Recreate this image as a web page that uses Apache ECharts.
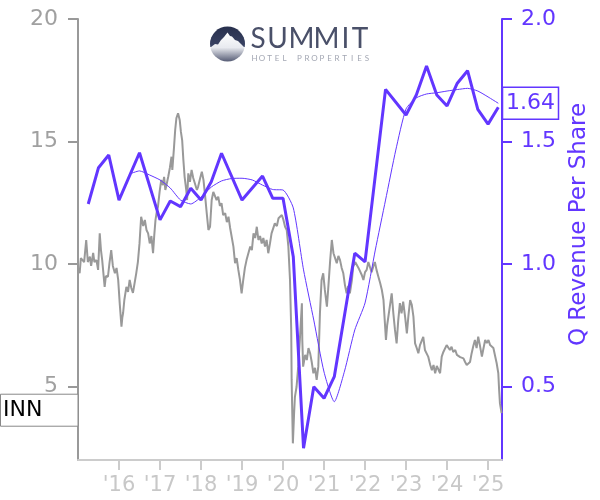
<!DOCTYPE html>
<html><head><meta charset="utf-8">
<script src="https://cdn.jsdelivr.net/npm/echarts@6/dist/echarts.min.js"></script>
<style>html,body{margin:0;padding:0;background:#fff}#c{width:600px;height:500px}</style>
</head><body><div id="c"></div>
<script>
const ticker = 'INN';
const rightAxisName = 'Q Revenue Per Share';
const priceDates = [2015.00,2015.04,2015.07,2015.15,2015.20,2015.24,2015.29,2015.32,2015.37,2015.40,2015.45,2015.49,2015.53,2015.56,2015.59,2015.65,2015.68,2015.73,2015.77,2015.81,2015.85,2015.90,2015.94,2015.98,2016.02,2016.06,2016.08,2016.10,2016.13,2016.18,2016.22,2016.26,2016.30,2016.34,2016.38,2016.42,2016.46,2016.50,2016.54,2016.59,2016.63,2016.67,2016.71,2016.75,2016.79,2016.83,2016.86,2016.89,2016.92,2016.95,2016.99,2017.03,2017.07,2017.10,2017.13,2017.15,2017.20,2017.24,2017.28,2017.30,2017.34,2017.37,2017.40,2017.44,2017.48,2017.51,2017.54,2017.57,2017.60,2017.64,2017.66,2017.69,2017.73,2017.77,2017.81,2017.85,2017.90,2017.93,2017.98,2018.02,2018.06,2018.10,2018.14,2018.18,2018.22,2018.26,2018.30,2018.34,2018.38,2018.42,2018.46,2018.50,2018.54,2018.59,2018.63,2018.67,2018.71,2018.75,2018.79,2018.83,2018.87,2018.91,2018.95,2018.99,2019.03,2019.07,2019.11,2019.15,2019.20,2019.24,2019.28,2019.32,2019.36,2019.40,2019.44,2019.48,2019.52,2019.56,2019.60,2019.64,2019.68,2019.72,2019.76,2019.80,2019.85,2019.89,2019.93,2019.97,2020.01,2020.05,2020.09,2020.13,2020.17,2020.20,2020.21,2020.24,2020.27,2020.29,2020.33,2020.37,2020.41,2020.46,2020.47,2020.49,2020.54,2020.58,2020.62,2020.66,2020.70,2020.74,2020.78,2020.82,2020.86,2020.90,2020.94,2020.98,2021.02,2021.07,2021.10,2021.15,2021.19,2021.23,2021.27,2021.31,2021.35,2021.39,2021.43,2021.47,2021.51,2021.55,2021.59,2021.63,2021.68,2021.71,2021.76,2021.80,2021.84,2021.88,2021.92,2021.96,2022.00,2022.04,2022.08,2022.12,2022.16,2022.20,2022.24,2022.28,2022.32,2022.37,2022.41,2022.45,2022.48,2022.51,2022.54,2022.57,2022.61,2022.65,2022.69,2022.73,2022.77,2022.81,2022.85,2022.89,2022.93,2022.98,2023.02,2023.06,2023.10,2023.14,2023.18,2023.22,2023.26,2023.30,2023.34,2023.38,2023.42,2023.46,2023.50,2023.54,2023.59,2023.63,2023.67,2023.71,2023.75,2023.79,2023.83,2023.87,2023.91,2023.95,2023.99,2024.03,2024.07,2024.11,2024.15,2024.20,2024.24,2024.28,2024.32,2024.36,2024.40,2024.44,2024.48,2024.52,2024.56,2024.60,2024.64,2024.68,2024.72,2024.76,2024.80,2024.85,2024.89,2024.93,2024.97,2025.01,2025.05,2025.09,2025.13,2025.17,2025.21,2025.25,2025.27,2025.29,2025.33];
const priceValues = [9.76,9.63,10.24,10.08,10.98,10.08,10.30,9.92,10.45,10.08,10.16,9.76,11.25,10.57,10.16,9.07,9.51,9.48,10.08,10.57,9.92,9.62,9.84,9.35,8.33,7.44,7.80,8.00,8.53,9.07,8.86,9.35,9.02,8.82,9.22,9.62,10.08,10.84,11.93,11.55,11.80,11.39,11.25,10.84,11.14,10.44,11.18,11.80,12.12,12.34,12.94,13.43,13.22,13.56,13.02,13.16,13.56,13.92,14.38,13.84,14.73,15.47,15.96,16.15,15.88,15.39,15.06,14.24,13.56,13.02,12.61,13.70,13.35,13.84,13.51,13.43,13.02,13.16,13.51,13.77,13.43,12.78,12.07,11.39,11.52,12.61,12.94,13.02,12.61,12.75,12.37,12.48,12.00,12.07,11.71,11.93,11.47,11.52,10.71,10.03,10.24,9.76,9.35,8.80,9.35,9.84,10.16,10.08,10.71,10.57,11.25,11.06,11.52,10.98,11.14,10.84,11.06,10.71,10.98,10.44,10.82,11.25,11.31,11.66,11.55,11.87,11.93,12.00,11.80,11.52,11.39,10.71,9.35,7.31,5.27,2.68,3.91,4.58,4.99,5.81,6.90,8.40,6.90,5.81,6.29,6.08,6.57,6.36,6.00,5.54,5.76,5.27,5.81,7.99,9.35,9.62,8.94,8.26,8.94,10.16,10.98,10.44,10.24,10.03,10.33,10.16,9.84,9.62,9.14,8.80,9.10,8.80,9.35,9.89,10.08,10.16,9.84,9.89,9.55,9.35,9.67,9.76,10.08,10.03,9.67,9.89,10.08,9.76,9.51,9.21,8.94,8.53,7.71,6.90,7.51,7.58,8.33,8.80,7.99,7.31,6.76,7.71,8.40,7.99,8.46,7.80,7.17,7.92,8.53,8.33,7.85,6.76,6.57,6.36,6.69,6.76,7.03,6.49,6.41,6.22,5.88,5.67,5.88,5.54,5.84,5.81,5.54,6.22,6.41,6.49,6.69,6.76,6.49,6.62,6.41,6.49,6.29,6.36,6.20,6.24,6.15,6.00,5.88,5.81,6.00,6.36,6.65,6.90,6.57,7.03,6.69,6.22,6.57,6.90,6.78,6.90,6.69,6.76,6.57,6.49,5.95,5.54,4.86,4.31,3.91];
const revQuarters = [2015.25,2015.5,2015.75,2016.0,2016.5,2017.0,2017.25,2017.5,2017.75,2018.0,2018.25,2018.5,2019.0,2019.5,2019.75,2020.0,2020.25,2020.5,2020.75,2021.0,2021.25,2021.75,2022.0,2022.5,2023.0,2023.25,2023.5,2023.75,2024.0,2024.25,2024.5,2024.75,2025.0,2025.25];
const revValues = [1.245,1.393,1.445,1.261,1.454,1.180,1.257,1.234,1.309,1.261,1.336,1.452,1.261,1.359,1.268,1.268,1.030,0.248,0.499,0.452,0.540,1.044,1.009,1.713,1.608,1.690,1.808,1.690,1.645,1.738,1.789,1.631,1.571,1.64];
const avgQuarters = [2016.25,2016.5,2016.75,2017.0,2017.25,2017.5,2017.75,2018.0,2018.25,2018.5,2018.75,2019.0,2019.25,2019.5,2019.75,2020.0,2020.25,2020.5,2020.75,2021.0,2021.25,2021.5,2021.75,2022.0,2022.25,2022.5,2022.75,2023.0,2023.25,2023.5,2023.75,2024.0,2024.25,2024.5,2024.75,2025.0,2025.25];
const avgValues = [1.367,1.380,1.363,1.343,1.310,1.261,1.245,1.273,1.314,1.339,1.349,1.350,1.343,1.322,1.304,1.302,1.229,0.976,0.771,0.559,0.438,0.563,0.731,0.841,1.057,1.261,1.465,1.633,1.678,1.694,1.699,1.706,1.712,1.717,1.706,1.682,1.656];
const xMin = 2015, xMax = 2025.34;
const priceMin = 2, priceMax = 20;
const revMin = 0.2, revMax = 2.0;

const PURPLE = '#6236ff';
const FONT = 'DejaVu Sans';
const chart = echarts.init(document.getElementById('c'), null, {renderer: 'canvas'});

const zip = (a, b) => a.map((v, i) => [v, b[i]]);

chart.setOption({
  animation: false,
  grid: {left: 78, right: 98, top: 19, bottom: 40, containLabel: false},
  xAxis: {
    type: 'value', min: xMin, max: xMax, interval: 1,
    axisLine: {show: true, lineStyle: {color: '#cccccc', width: 2}},
    axisTick: {show: true, length: 10, lineStyle: {color: '#cccccc', width: 2}},
    axisLabel: {color: '#c8c8c8', fontSize: 21, fontFamily: FONT, margin: 15,
      showMinLabel: false, showMaxLabel: false,
      formatter: v => "'" + String(Math.round(v)).slice(2)},
    splitLine: {show: false}
  },
  yAxis: [{
    type: 'value', position: 'left', min: priceMin, max: priceMax, splitNumber: 4,
    axisLine: {show: true, lineStyle: {color: '#999999', width: 2}},
    axisTick: {show: true, length: 10, lineStyle: {color: '#999999', width: 2}},
    axisLabel: {color: '#a0a0a0', fontSize: 22, fontFamily: FONT, margin: 20, showMinLabel: false},
    splitLine: {show: false}
  }, {
    type: 'value', position: 'right', min: revMin, max: revMax, splitNumber: 4,
    name: rightAxisName, nameLocation: 'middle', nameGap: 66, nameRotate: 90,
    nameTextStyle: {color: PURPLE, fontSize: 23, fontFamily: FONT, padding: [0, 0, 0, 30]},
    axisLine: {show: true, lineStyle: {color: PURPLE, width: 2}},
    axisTick: {show: true, length: 10, lineStyle: {color: PURPLE, width: 2}},
    axisLabel: {color: PURPLE, fontSize: 22, fontFamily: FONT, margin: 19, showMinLabel: false,
      formatter: v => v.toFixed(1)},
    splitLine: {show: false}
  }],
  series: [{
    type: 'line', yAxisIndex: 0, data: zip(priceDates, priceValues),
    showSymbol: false, lineStyle: {color: '#999999', width: 2}, z: 1
  }, {
    type: 'line', yAxisIndex: 1, data: zip(avgQuarters, avgValues),
    showSymbol: false, smooth: 0.2, lineStyle: {color: PURPLE, width: 1}, z: 2
  }, {
    type: 'line', yAxisIndex: 1, data: zip(revQuarters, revValues),
    showSymbol: false, lineStyle: {color: PURPLE, width: 3}, z: 3
  }]
});

// value tags computed from the data through the axes
const lastPrice = priceValues[priceValues.length - 1];
const lastRev = revValues[revValues.length - 1];
const yPrice = chart.convertToPixel({yAxisIndex: 0}, lastPrice) - 3;
const yRev = chart.convertToPixel({yAxisIndex: 1}, lastRev) - 4;
const xRight = chart.convertToPixel({xAxisIndex: 0}, xMax);
const xLeft = chart.convertToPixel({xAxisIndex: 0}, xMin);

// Logo letters
const summitLetters = [['S',258],['U',277.5],['M',301.5],['M',326.5],['I',345.5],['T',360]];
const subText = 'HOTEL PROPERTIES';
const logoEls = [
  {type: 'circle', shape: {cx: 227.5, cy: 44, r: 17.5},
   style: {fill: new echarts.graphic.LinearGradient(0, 0, 0, 1, [
     {offset: 0, color: '#28304d'}, {offset: 0.58, color: '#3a4364'},
     {offset: 0.6, color: '#e9ebf0'}, {offset: 1, color: '#565c75'}])}},
  {type: 'polygon', shape: {points: [[211,47],[215,44],[218,44.5],[221,40],[224,37],[227.5,32.5],[230,36],[232,36.5],[235,40],[238,41],[241,44],[244,47]]},
   style: {fill: new echarts.graphic.LinearGradient(0, 0, 0, 1, [
     {offset: 0, color: '#ffffff'}, {offset: 1, color: '#e9ebf0'}])}}
];
summitLetters.forEach(([ch, cx]) => logoEls.push({type: 'text', x: cx, y: 39,
  style: {text: ch, fill: '#4a5069', font: '28px Lato', align: 'center', verticalAlign: 'middle'}}));
subText.split('').forEach((ch, i) => { if (ch !== ' ') logoEls.push({type: 'text', x: 254.5 + 7.5 * i, y: 58,
  style: {text: ch, fill: '#a3a7b3', font: '8px Lato', align: 'center', verticalAlign: 'middle'}}); });

chart.setOption({
  graphic: [
    ...logoEls,
    {type: 'rect', shape: {x: 0.5, y: yPrice - 16, width: xLeft - 0.5, height: 32},
     style: {fill: '#ffffff', stroke: '#888888', lineWidth: 1}, z: 10},
    {type: 'text', x: 3, y: yPrice, z: 11,
     style: {text: ticker, fill: '#000000', font: '22px "DejaVu Sans"', align: 'left', verticalAlign: 'middle'}},
    {type: 'rect', shape: {x: xRight + 0.5, y: yRev - 16, width: 56, height: 32},
     style: {fill: '#ffffff', stroke: PURPLE, lineWidth: 1.5}, z: 10},
    {type: 'text', x: xRight + 4, y: yRev, z: 11,
     style: {text: lastRev.toFixed(2), fill: PURPLE, font: '22px "DejaVu Sans"', align: 'left', verticalAlign: 'middle'}}
  ]
});
</script>
</body></html>
